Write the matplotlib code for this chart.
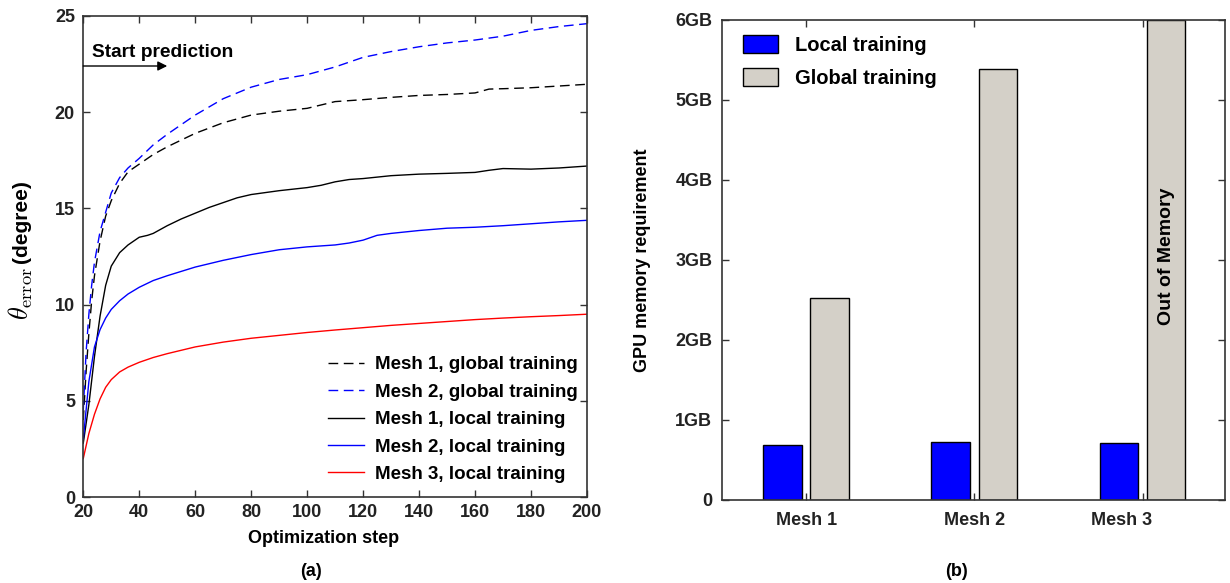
import numpy as np
import matplotlib.pyplot as plt
from matplotlib.transforms import ScaledTranslation

plt.rcParams['font.family'] = ['Liberation Sans', 'DejaVu Sans']
plt.rcParams['font.weight'] = 'bold'
plt.rcParams['mathtext.fontset'] = 'cm'

# (a) angular error vs optimization step
steps_m1g = [20, 21, 22, 23, 24, 26, 28, 30, 33, 36, 40, 45, 50, 60, 70, 80, 90, 100, 110, 120,
             130, 140, 150, 160, 165, 170, 180, 190, 200]
err_m1g = [4.0, 6.5, 8.5, 10.2, 11.5, 13.3, 14.6, 15.4, 16.3, 16.9, 17.3, 17.8, 18.2, 18.9, 19.45,
           19.85, 20.05, 20.2, 20.55, 20.65, 20.77, 20.87, 20.92, 21.0, 21.2, 21.22, 21.27, 21.36, 21.45]

steps_m2g = [20, 21, 22, 23, 24, 26, 28, 30, 33, 36, 40, 45, 50, 55, 60, 70, 80, 90, 100, 110, 120,
             130, 140, 150, 160, 170, 180, 190, 200]
err_m2g = [4.5, 7.5, 9.5, 11.0, 12.2, 13.8, 14.8, 15.8, 16.6, 17.1, 17.6, 18.3, 18.85, 19.35, 19.85,
           20.7, 21.3, 21.7, 21.95, 22.35, 22.85, 23.15, 23.4, 23.6, 23.75, 23.95, 24.25, 24.45, 24.6]

steps_m1l = [20, 22, 24, 26, 28, 30, 33, 36, 40, 43, 45, 50, 55, 60, 65, 70, 75, 80, 90, 100, 105,
             110, 115, 120, 130, 140, 150, 160, 165, 170, 180, 190, 200]
err_m1l = [2.8, 4.8, 7.3, 9.4, 11.0, 12.0, 12.7, 13.1, 13.5, 13.6, 13.7, 14.1, 14.45, 14.75, 15.05,
           15.3, 15.55, 15.72, 15.92, 16.08, 16.2, 16.38, 16.5, 16.55, 16.7, 16.78, 16.82, 16.87,
           16.98, 17.07, 17.04, 17.1, 17.2]

steps_m2l = [20, 22, 24, 26, 28, 30, 33, 36, 40, 45, 50, 60, 70, 80, 90, 100, 110, 115, 120, 125,
             130, 140, 150, 160, 170, 180, 190, 200]
err_m2l = [3.0, 6.0, 7.8, 8.7, 9.3, 9.75, 10.2, 10.55, 10.9, 11.25, 11.5, 11.95, 12.3, 12.6, 12.85,
           13.0, 13.1, 13.2, 13.35, 13.6, 13.7, 13.85, 13.97, 14.02, 14.1, 14.2, 14.3, 14.38]

steps_m3l = [20, 22, 24, 26, 28, 30, 33, 36, 40, 45, 50, 60, 70, 80, 90, 100, 110, 120, 130, 140,
             150, 160, 170, 180, 190, 200]
err_m3l = [2.0, 3.3, 4.3, 5.1, 5.7, 6.1, 6.5, 6.75, 7.0, 7.25, 7.45, 7.8, 8.05, 8.25, 8.4, 8.55,
           8.68, 8.8, 8.92, 9.02, 9.12, 9.22, 9.3, 9.37, 9.43, 9.5]

# (b) GPU memory per mesh
meshes = ['Mesh 1', 'Mesh 2', 'Mesh 3']
mem_local = [0.69, 0.72, 0.71]
mem_global = [2.53, 5.39, 6.0]

fs = 13
edge = '#333333'

fig = plt.figure(figsize=(12.3, 5.83), dpi=100)
ax1 = fig.add_axes([0.0677, 0.1475, 0.4095, 0.8251])
ax2 = fig.add_axes([0.587, 0.1424, 0.4089, 0.8233])

dash = (0, (7, 4))
ax1.plot(steps_m1g, err_m1g, color='black', lw=1, linestyle=dash, label='Mesh 1, global training')
ax1.plot(steps_m2g, err_m2g, color='#0000ff', lw=1, linestyle=dash, label='Mesh 2, global training')
ax1.plot(steps_m1l, err_m1l, color='black', lw=1, label='Mesh 1, local training')
ax1.plot(steps_m2l, err_m2l, color='#0000ff', lw=1, label='Mesh 2, local training')
ax1.plot(steps_m3l, err_m3l, color='#ff0000', lw=1, label='Mesh 3, local training')

ax1.set_xlim(20, 200)
ax1.set_ylim(0, 25)
ax1.set_xticks(np.arange(20, 201, 20))
ax1.set_yticks(np.arange(0, 26, 5))
ax1.set_xlabel('Optimization step', fontsize=fs, fontweight='bold')
ax1.xaxis.set_label_coords(0.477, -0.068)

# y label: serif math symbol followed by bold sans unit
fig.text(21 / 1230, 1 - 267 / 583, r'$\theta_{\mathrm{error}}$', rotation=90,
         ha='center', va='top', fontsize=19)
fig.text(21 / 1230, 1 - 263 / 583, '(degree)', rotation=90,
         ha='center', va='bottom', fontsize=15, fontweight='bold')

ax1.annotate('', xy=(50, 22.4), xytext=(20, 22.4),
             arrowprops=dict(arrowstyle='-|>', color='black', lw=1, mutation_scale=14,
                             shrinkA=0, shrinkB=0))
ax1.text(23, 23.1, 'Start prediction', fontsize=13.8, fontweight='bold', va='center', ha='left')

ax1.legend(loc='upper left', bbox_to_anchor=(0.486, 0.293), frameon=False, fontsize=13.5,
           borderpad=0, borderaxespad=0, handlelength=1.9, handletextpad=0.6, labelspacing=0.55)

# bars
x = np.arange(len(meshes))
w = 0.23
ax2.bar(x - 0.14, mem_local, w, color='#0000ff', edgecolor='black', lw=1, label='Local training')
ax2.bar(x + 0.14, mem_global, w, color='#d4d0c8', edgecolor='black', lw=1, label='Global training')
ax2.text(x[2] + 0.14, 3.05, 'Out of Memory', rotation=90, ha='center', va='center',
         fontsize=14, fontweight='bold')

ax2.set_xlim(-0.5, 2.49)
ax2.set_ylim(0, 6)
ax2.set_xticks(x)
ax2.set_xticklabels(meshes)
ax2.set_yticks(np.arange(0, 7))
ax2.set_yticklabels(['0', '1GB', '2GB', '3GB', '4GB', '5GB', '6GB'])
ax2.set_ylabel('GPU memory requirement', fontsize=fs, fontweight='bold')
ax2.yaxis.set_label_coords(-0.142, 0.5)

ax2.legend(loc='upper left', bbox_to_anchor=(0.042, 0.969), frameon=False, fontsize=14.5,
           borderpad=0, borderaxespad=0, handlelength=1.74, handleheight=1.0,
           handletextpad=0.84, labelspacing=0.65)

for ax in (ax1, ax2):
    for s in ax.spines.values():
        s.set_color(edge)
        s.set_linewidth(1.2)
    ax.tick_params(direction='in', top=True, right=True, length=5, width=1, color=edge,
                   labelsize=fs, labelcolor='#222222')
    for lbl in ax.get_xticklabels() + ax.get_yticklabels():
        lbl.set_fontweight('bold')
ax1.tick_params(axis='y', pad=6)
ax1.tick_params(axis='x', pad=5)
ax2.tick_params(axis='y', pad=7)
ax2.tick_params(axis='x', pad=9)

# third group label sits a little left of its tick
lab3 = ax2.get_xticklabels()[2]
lab3.set_transform(lab3.get_transform() + ScaledTranslation(-0.21, 0, fig.dpi_scale_trans))

fig.text(311 / 1230, 1 - 572 / 583, '(a)', ha='center', va='center', fontsize=fs, fontweight='bold')
fig.text(957 / 1230, 1 - 572 / 583, '(b)', ha='center', va='center', fontsize=fs, fontweight='bold')

fig.savefig('out.png', dpi=100)
